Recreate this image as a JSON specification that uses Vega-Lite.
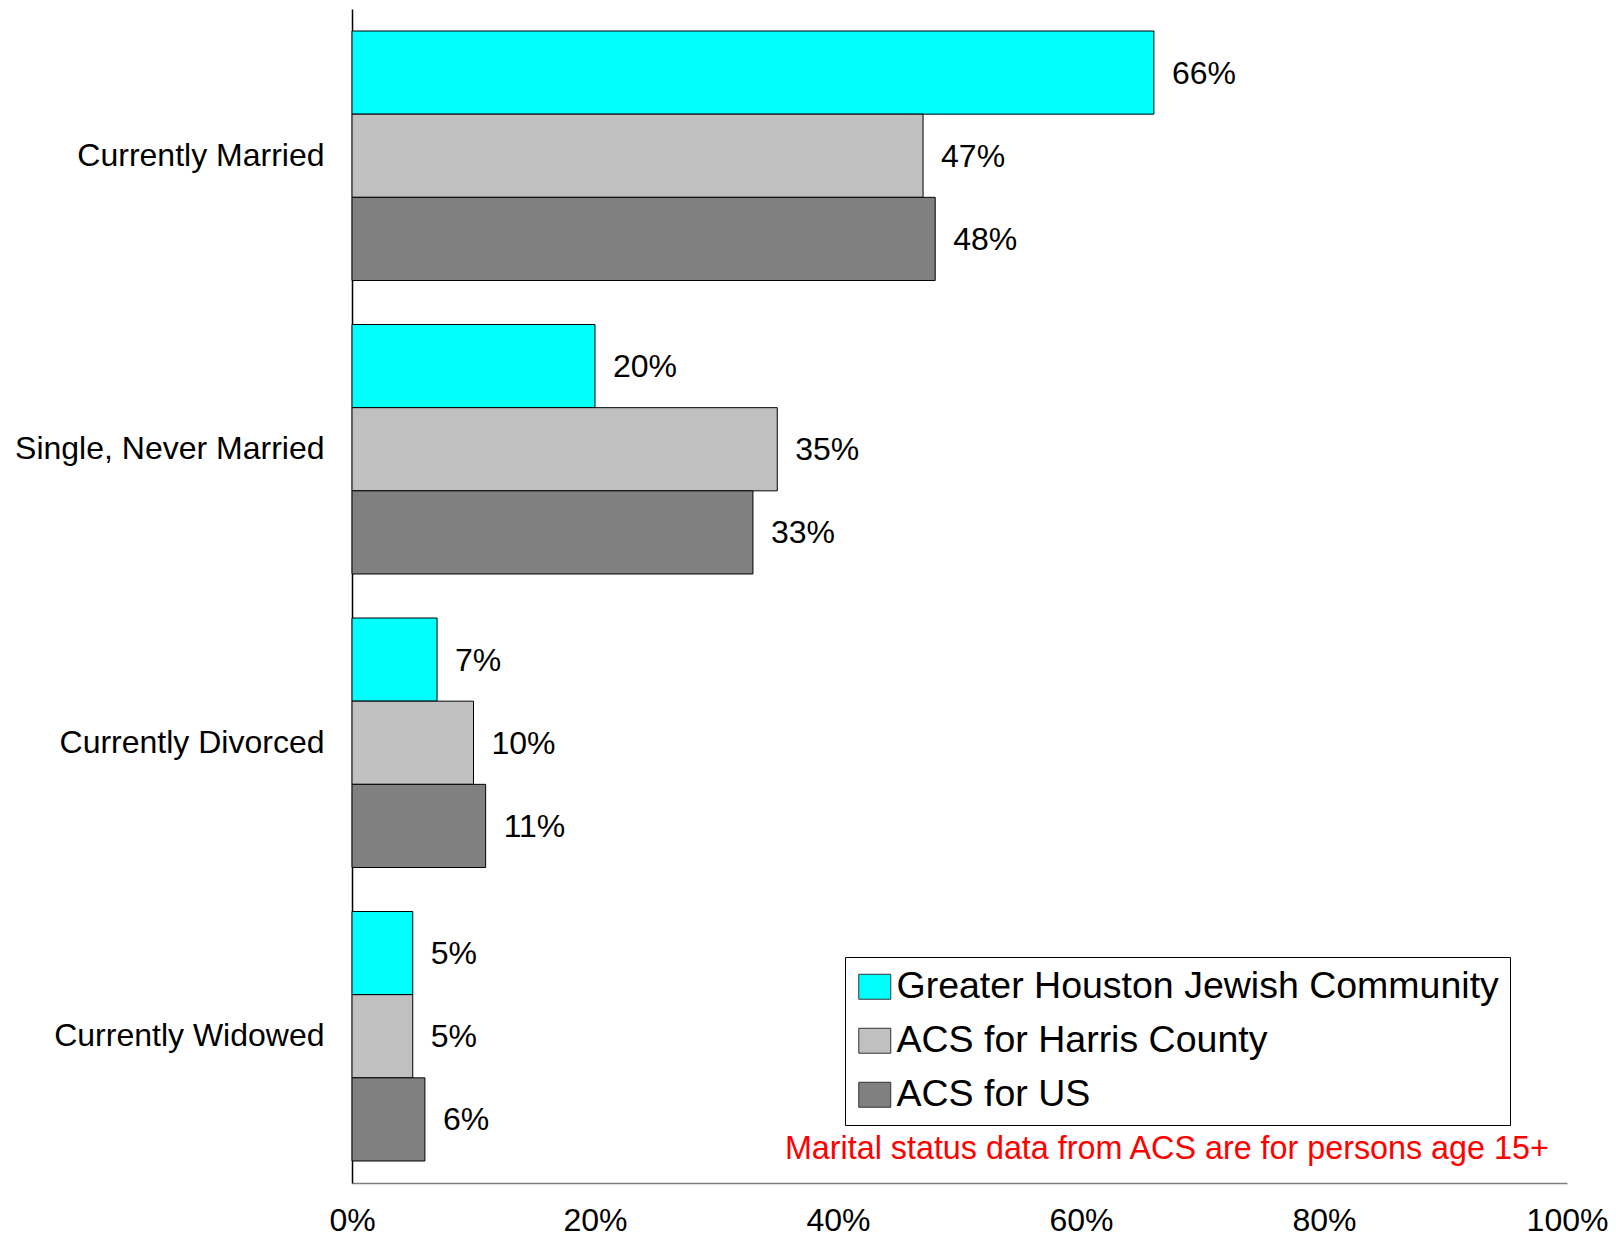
{
  "$schema": "https://vega.github.io/schema/vega-lite/v6.json",
  "width": 1215,
  "height": 1174,
  "autosize": "none",
  "padding": {"left": 352, "top": 9, "right": 49, "bottom": 53},
  "config": {"font": "Liberation Sans", "view": {"stroke": null}},
  "layer": [
    {
      "data": {"values": [
        {"status": "Currently Married", "series": "Greater Houston Jewish Community", "value": 0.66},
        {"status": "Currently Married", "series": "ACS for Harris County", "value": 0.47},
        {"status": "Currently Married", "series": "ACS for US", "value": 0.48},
        {"status": "Single, Never Married", "series": "Greater Houston Jewish Community", "value": 0.20},
        {"status": "Single, Never Married", "series": "ACS for Harris County", "value": 0.35},
        {"status": "Single, Never Married", "series": "ACS for US", "value": 0.33},
        {"status": "Currently Divorced", "series": "Greater Houston Jewish Community", "value": 0.07},
        {"status": "Currently Divorced", "series": "ACS for Harris County", "value": 0.10},
        {"status": "Currently Divorced", "series": "ACS for US", "value": 0.11},
        {"status": "Currently Widowed", "series": "Greater Houston Jewish Community", "value": 0.05},
        {"status": "Currently Widowed", "series": "ACS for Harris County", "value": 0.05},
        {"status": "Currently Widowed", "series": "ACS for US", "value": 0.06}
      ]},
      "encoding": {
        "y": {
          "field": "status", "type": "nominal",
          "sort": null,
          "scale": {"domain": ["Currently Married", "Single, Never Married", "Currently Divorced", "Currently Widowed"], "paddingInner": 0.15, "paddingOuter": 0.075},
          "axis": {"title": null, "ticks": false, "domainColor": "#000000", "domainWidth": 1.5, "labelFontSize": 32, "labelPadding": 28, "labelColor": "#000000", "labelLimit": 400}
        },
        "yOffset": {
          "field": "series", "type": "nominal",
          "sort": null,
          "scale": {"domain": ["Greater Houston Jewish Community", "ACS for Harris County", "ACS for US"], "paddingInner": 0, "paddingOuter": 0}
        },
        "x": {
          "field": "value", "type": "quantitative",
          "scale": {"domain": [0, 1]},
          "axis": {"title": null, "format": ".0%", "values": [0, 0.2, 0.4, 0.6, 0.8, 1.0], "ticks": false, "grid": false, "domainColor": "#808080", "domainWidth": 1.5, "labelFontSize": 32, "labelPadding": 22, "labelColor": "#000000", "labelFlush": false, "labelOverlap": false}
        }
      },
      "layer": [
        {
          "mark": {"type": "bar", "stroke": "#000000", "strokeWidth": 1},
          "encoding": {
            "color": {
              "field": "series", "type": "nominal",
              "scale": {"domain": ["Greater Houston Jewish Community", "ACS for Harris County", "ACS for US"], "range": ["#00FFFF", "#C0C0C0", "#808080"]},
              "legend": {
                "title": null, "orient": "none", "legendX": 493, "legendY": 948,
                "strokeColor": "#000000", "fillColor": "#FFFFFF", "padding": 11,
                "labelFontSize": 37.5, "labelColor": "#000000", "labelLimit": 800, "labelOffset": 3,
                "symbolType": "M-1,-0.78H1V0.78H-1Z", "symbolSize": 1024,
                "symbolStrokeColor": "#333333", "symbolStrokeWidth": 1, "symbolOpacity": 1,
                "rowPadding": 15
              }
            }
          }
        },
        {
          "mark": {"type": "text", "align": "left", "baseline": "middle", "dx": 18, "dy": 1, "fontSize": 32, "color": "#000000"},
          "encoding": {"text": {"field": "value", "type": "quantitative", "format": ".0%"}}
        }
      ]
    },
    {
      "data": {"values": [{"note": "Marital status data from ACS are for persons age 15+", "status": "Currently Widowed"}]},
      "mark": {"type": "text", "align": "right", "baseline": "middle", "dy": 113, "fontSize": 32.3, "color": "#FF0000"},
      "encoding": {
        "text": {"field": "note", "type": "nominal"},
        "x": {"datum": 0.985, "type": "quantitative"},
        "y": {"field": "status", "type": "nominal", "sort": null}
      }
    }
  ]
}
